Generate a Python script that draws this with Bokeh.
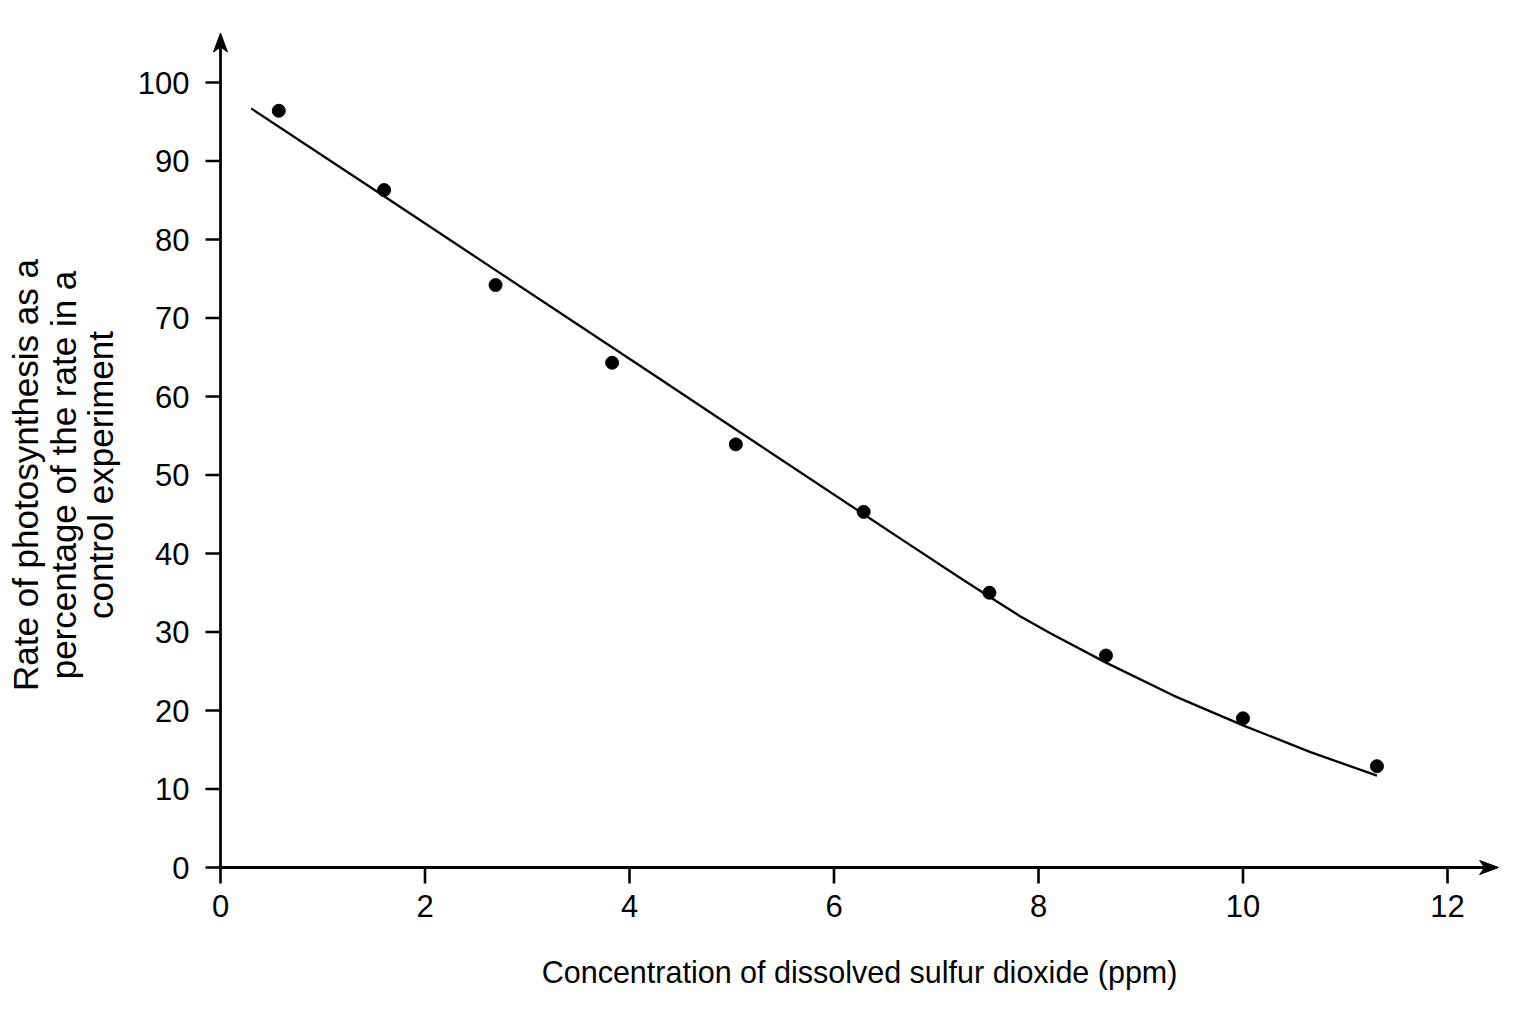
from math import pi
from bokeh.plotting import figure
from bokeh.core.properties import value
from bokeh.embed import file_html
from bokeh.resources import INLINE

# measured points
so2_ppm = [0.57, 1.60, 2.69, 3.83, 5.04, 6.29, 7.52, 8.66, 10.0, 11.31]
rate_pct = [96.4, 86.3, 74.2, 64.3, 53.9, 45.3, 35.0, 27.0, 19.0, 12.9]

# line of best fit
fit_x = [0.30, 1.60, 2.69, 4.21, 5.04, 6.29, 6.65, 7.22, 7.52, 7.82, 8.12, 8.66, 9.32, 10.0, 10.66, 11.31]
fit_y = [96.7, 85.5, 76.1, 63.0, 55.8, 45.0, 41.9, 37.0, 34.5, 32.0, 29.8, 26.1, 21.9, 18.1, 14.7, 11.7]

x_ticks = [0, 2, 4, 6, 8, 10, 12]
y_ticks = [0, 10, 20, 30, 40, 50, 60, 70, 80, 90, 100]

x_title = "Concentration of dissolved sulfur dioxide (ppm)"
y_title = ["Rate of photosynthesis as a",
           "percentage of the rate in a",
           "control experiment"]

FONT = value("Liberation Sans")
W, H = 1520, 1016
SX, SY = 102.25, 7.85          # px per data unit
X0, Y0 = 220, 867              # where the origin sits on the canvas
X_TIP, Y_TIP = 12.5, 106.3     # ends of the axis arrows

# the frame fills the whole canvas; the axes through the origin are drawn below
x_lo = -X0 / SX
y_lo = -(H - Y0) / SY
p = figure(width=W, height=H,
           x_range=(x_lo, x_lo + W / SX), y_range=(y_lo, y_lo + H / SY),
           output_backend="svg", toolbar_location=None, tools="",
           x_axis_location=None, y_axis_location=None, min_border=0)
p.xgrid.grid_line_color = None
p.ygrid.grid_line_color = None
p.outline_line_color = None
p.background_fill_color = "white"
p.border_fill_color = "white"

# axis lines and ticks
p.segment(x0=[0, 0], y0=[0, 0], x1=[X_TIP - 0.1, 0], y1=[0, Y_TIP - 1.5],
          line_color="black", line_width=2.8)
p.ray(x=x_ticks, y=[0] * len(x_ticks), length=16, length_units="screen",
      angle=-pi / 2, line_color="black", line_width=2.6)
p.ray(x=[0] * len(y_ticks), y=y_ticks, length=15, length_units="screen",
      angle=pi, line_color="black", line_width=2.6)

# vee shaped arrow heads (sizes in px)
hl, hw, nt = 19, 7, 5
p.patches(
    xs=[[X_TIP, X_TIP - hl / SX, X_TIP - (hl - nt) / SX, X_TIP - hl / SX],
        [0, hw / SX, 0, -hw / SX]],
    ys=[[0, hw / SY, 0, -hw / SY],
        [Y_TIP, Y_TIP - hl / SY, Y_TIP - (hl - nt) / SY, Y_TIP - hl / SY]],
    fill_color="black", line_color="black", line_width=1)

# tick labels
p.text(x=x_ticks, y=[0] * len(x_ticks), text=[str(t) for t in x_ticks],
       y_offset=38, text_align="center", text_baseline="middle",
       text_font=FONT, text_font_size="31px", text_color="black")
p.text(x=[0] * len(y_ticks), y=y_ticks, text=[str(t) for t in y_ticks],
       x_offset=-31, text_align="right", text_baseline="middle",
       text_font=FONT, text_font_size="31px", text_color="black")

# axis titles
p.text(x=[X_TIP / 2], y=[0], text=[x_title], y_offset=104,
       text_align="center", text_baseline="middle",
       text_font=FONT, text_font_size="30.5px", text_color="black")
p.text(x=[0] * 3, y=[50] * 3, text=y_title, x_offset=[-195, -157, -120],
       angle=pi / 2, text_align="center", text_baseline="middle",
       text_font=FONT, text_font_size="35px", text_color="black")

# data
p.line(fit_x, fit_y, line_color="black", line_width=2.3)
p.scatter(so2_ppm, rate_pct, size=13, fill_color="black", line_color="black")

open("out.html", "w").write(file_html(p, INLINE))
